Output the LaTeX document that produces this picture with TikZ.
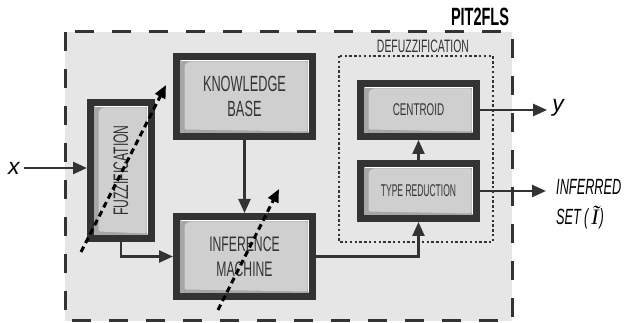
\documentclass[tikz,border=0pt]{standalone}
\usepackage{fontspec}
\setmainfont[FakeStretch=0.58]{Liberation Sans}
\newfontfamily\trfont[FakeStretch=0.5]{Liberation Sans}
\newfontfamily\plainfont{Liberation Sans}
\newfontfamily\seriffont{Liberation Serif}
\usetikzlibrary{arrows.meta,calc}
\definecolor{dk}{HTML}{333333}
\definecolor{bg}{HTML}{E6E6E6}
\definecolor{face}{HTML}{CFCFCF}
\definecolor{bev}{HTML}{A6A6A6}
\tikzset{
  blk/.style={draw=dk, line width=7pt, fill=bev, inner sep=0pt, align=center, text=dk,
    path picture={
      \coordinate (pa) at (path picture bounding box.south west);
      \coordinate (pb) at (path picture bounding box.north east);
      \fill[face, rounded corners=2pt] ($(pa)+(8pt,7pt)$) -- ($(pa|-pb)+(8pt,-12pt)$)
        to[out=90,in=180] ($(pa|-pb)+(16pt,-5pt)$) -- ($(pb)+(-5pt,-5pt)$) -- ($(pb|-pa)+(-5pt,5pt)$) -- cycle;
      \draw[white, line width=1.2pt] ($(pa|-pb)+(4pt,-4.2pt)$) -- ($(pb)+(-4.2pt,-4.2pt)$) -- ($(pb|-pa)+(-4.2pt,4pt)$);
    }},
  conn/.style={draw=dk, line width=2.4pt, -{Triangle[length=14pt,width=12pt]}},
  darr/.style={draw=black, line width=3pt, dash pattern=on 6pt off 4pt, -{Triangle[length=13pt,width=11pt]}},
  lbl/.style={text=black, inner sep=0pt},
}
\begin{document}
\begin{tikzpicture}[x=1pt,y=-1pt]
\useasboundingbox (0,0) rectangle (627,323);
% outer dashed system box
\draw[dk, line width=3pt, fill=bg, dash pattern=on 19pt off 18pt] (65,32) rectangle (512,321);
\node[lbl, font=\fontsize{25}{25}\selectfont\bfseries] (title) at (480,17) {PIT2FLS};
% defuzzification dotted box
\draw[dk, line width=2.6pt, dash pattern=on 2.4pt off 2.4pt] (339,56) rectangle (493,242);
\node[lbl, text=dk, font=\fontsize{18}{18}\selectfont] (deflbl) at (423,46) {DEFUZZIFICATION};
% blocks
\node[blk, minimum width=61pt, minimum height=136pt] (fuz) at (121,170.5)
  {\rotatebox{90}{\fontsize{21}{21}\selectfont FUZZIFICATION}};
\node[blk, minimum width=136pt, minimum height=80pt, font=\fontsize{22}{25}\selectfont] (kb) at (244.5,96.5)
  {KNOWLEDGE\\BASE};
\node[blk, minimum width=136pt, minimum height=80pt, font=\fontsize{21}{25}\selectfont] (im) at (244.5,256.5)
  {INFERENCE\\MACHINE};
\node[blk, minimum width=116pt, minimum height=53pt, font=\fontsize{17}{17}\selectfont] (cen) at (418.5,110)
  {CENTROID};
\node[blk, minimum width=116pt, minimum height=55pt, font=\fontsize{17}{17}\selectfont\trfont] (tr) at (418.5,191)
  {TYPE REDUCTION};
% outside labels
\node[lbl, inner sep=4pt, font=\fontsize{23}{23}\selectfont\plainfont\itshape] (x) at (14,168) {x};
\node[lbl, inner sep=5pt, font=\fontsize{23}{23}\selectfont\plainfont\itshape] (y) at (558,108) {y};
\node[lbl, anchor=west, align=left, font=\fontsize{22}{30}\selectfont\itshape] (inf) at (556,204)
  {INFERRED\\SET\hspace{3pt}(\hspace{3pt}{\seriffont\itshape Ĩ}\hspace{1pt})};
\coordinate (infin) at ([xshift=-10pt]inf.west |- tr.east);
% connectors
\draw[conn] (x) -- (fuz.west |- x);
\draw[conn] (kb) -- (im);
\draw[conn] (fuz.south) |- (im.west);
\draw[conn] (im.east) -| (tr.south);
\draw[conn] (tr) -- (cen);
\draw[conn] (cen.east) -- (y.west |- cen.east);
\draw[conn] (tr.east) -- (infin);
% dashed adaptation arrows
\coordinate (d1a) at (81,252);
\coordinate (d1b) at (166,85);
\coordinate (d2a) at (218,310);
\coordinate (d2b) at (279,189);
\draw[darr] (d1a) -- (d1b);
\draw[darr] (d2a) -- (d2b);
\end{tikzpicture}
\end{document}
